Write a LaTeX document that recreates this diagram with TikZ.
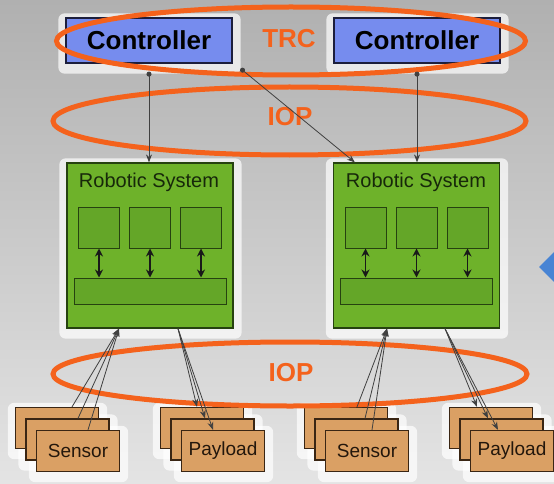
\documentclass[tikz,border=0pt]{standalone}
\usepackage{fontspec}
\setmainfont{Liberation Sans}
\usetikzlibrary{arrows.meta, positioning, calc}
\definecolor{bgtop}{RGB}{176,176,176}
\definecolor{bgbot}{RGB}{228,228,228}
\definecolor{ringorange}{RGB}{244,98,28}
\definecolor{ctrlblue}{RGB}{118,140,238}
\definecolor{ctrlline}{RGB}{28,30,60}
\definecolor{sysgreen}{RGB}{110,178,42}
\definecolor{sysinner}{RGB}{100,166,40}
\definecolor{sysline}{RGB}{38,66,16}
\definecolor{unittan}{RGB}{218,160,100}
\definecolor{unitline}{RGB}{58,38,20}
\definecolor{diamondblue}{RGB}{72,132,212}
\pgfdeclarelayer{back}
\pgfdeclarelayer{glow}
\pgfsetlayers{back,glow,main}

\tikzset{
  ctrl/.style={draw=ctrlline, line width=1.2pt, fill=ctrlblue, minimum width=166pt, minimum height=45pt,
    inner sep=0pt, font=\fontsize{26}{30}\selectfont\bfseries},
  sys/.style={draw=sysline, line width=1.2pt, fill=sysgreen, minimum width=166pt, minimum height=165pt, inner sep=0pt},
  systitle/.style={font=\fontsize{20}{24}\selectfont, text=sysline!60!black, anchor=base, inner sep=0pt},
  module/.style={draw=sysline, line width=1pt, fill=sysinner, minimum size=41pt, inner sep=0pt},
  busbar/.style={draw=sysline, line width=1pt, fill=sysinner, minimum width=152pt, minimum height=26pt, inner sep=0pt},
  unit/.style={draw=unitline, line width=1.2pt, fill=unittan, minimum width=83pt, minimum height=41pt,
    inner sep=0pt, font=\fontsize{19}{22}\selectfont, text=unitline!60!black},
  ring/.style={draw=ringorange, line width=5pt},
  ringlabel/.style={text=ringorange, font=\fontsize{26}{30}\selectfont\bfseries, inner sep=0pt},
  halo/.style={fill=white, rounded corners=6pt, opacity=0.7},
  link/.style={draw=black!75, line width=0.8pt},
  tip/.style={-{Stealth[length=8pt,width=6pt]}},
  bus/.style={{Stealth[length=8pt,width=8pt]}-{Stealth[length=8pt,width=8pt]}, line width=1.6pt, black!90},
}

\begin{document}
\begin{tikzpicture}[x=1pt, y=-1pt]
  \useasboundingbox (0,0) rectangle (554,484);
  \begin{pgfonlayer}{back}
    \shade[top color=bgtop, bottom color=bgbot] (0,0) rectangle (554,484);
    \fill[diamondblue] (539,267) -- (570,236) -- (601,267) -- (570,298) -- cycle;
  \end{pgfonlayer}

  % controllers
  \node[ctrl] (ctrlL) at (149,40.5) {Controller};
  \node[ctrl] (ctrlR) at (417,40.5) {Controller};

  % robotic systems
  \node[sys] (sysL) at (150,245.5) {};
  \node[sys] (sysR) at (416.5,245.5) {};
  \node[systitle] (titleL) at (149,187) {Robotic System};
  \node[systitle] (titleR) at (416,187) {Robotic System};
  \foreach \s/\cx in {L/150, R/416.5} {
    \foreach \i/\dx in {1/-51, 2/0, 3/51}
      \node[module] (mod\s\i) at (\cx+\dx, 227.5) {};
    \node[busbar] (bar\s) at (\cx, 291) {};
    \foreach \i in {1,2,3}
      \draw[bus] (mod\s\i) -- (mod\s\i |- bar\s.north);
  }

  % sensor and payload stacks, label on the front card only
  \foreach \nm/\cx/\txt in {sensL/57/Sensor, loadL/202/Payload, sensR/346/Sensor, loadR/491/Payload} {
    \foreach \i in {1,2,3}
      \node[unit] (\nm\i) at ({\cx+(\i-1)*10.5}, {428+(\i-1)*11.5}) {\ifnum\i=3 \txt\fi};
  }

  % white glow behind the boxes
  \begin{pgfonlayer}{glow}
    \foreach \n in {ctrlL, ctrlR, sysL, sysR, sensL1, sensL2, sensL3, loadL1, loadL2, loadL3,
                    sensR1, sensR2, sensR3, loadR1, loadR2, loadR3}
      \fill[halo] ([shift={(-7pt,4pt)}]\n.north west) rectangle ([shift={(8pt,-10pt)}]\n.south east);
  \end{pgfonlayer}

  % protocol rings
  \draw[ring] (291,41) ellipse [x radius=234.5pt, y radius=34pt];
  \draw[ring] (289.5,121) ellipse [x radius=236.5pt, y radius=34pt];
  \draw[ring] (290,374) ellipse [x radius=237pt, y radius=32pt];
  \node[ringlabel] (trc) at (289,39) {TRC};
  \node[ringlabel] (iopTop) at (290,117) {IOP};
  \node[ringlabel] (iopBot) at (291,373) {IOP};

  % controller links
  \draw[link, {Circle[length=5pt]}-{Stealth[length=8pt,width=6pt]}] ([yshift=-8pt]ctrlL.south) -- (ctrlL.south |- sysL.north);
  \draw[link, {Circle[length=5pt]}-{Stealth[length=8pt,width=6pt]}] ([yshift=-8pt]ctrlR.south) -- (ctrlR.south |- sysR.north);
  \draw[link, {Circle[length=5pt]}-{Stealth[length=8pt,width=6pt]}] ([shift={(8pt,-5pt)}]ctrlL.south east) -- ([xshift=22pt]sysR.north west);

  % sensor links
  \foreach \i/\sx in {1/15, 2/10.5, 3/10}
    \draw[link, tip] ([xshift=\sx pt]sensL\i.north) -- ([xshift=-31pt]sysL.south);
  \foreach \i/\sx in {1/11, 2/8.5, 3/5}
    \draw[link, tip] ([xshift=\sx pt]sensR\i.north) -- ([xshift=-29.5pt]sysR.south);

  % payload links
  \foreach \i/\sx in {1/-5, 2/-7.5, 3/-10}
    \draw[link, tip] ([xshift=28pt]sysL.south) -- ([xshift=\sx pt]loadL\i.north);
  \foreach \i/\sx in {1/-14, 2/-13.5, 3/-14}
    \draw[link, tip] ([xshift=28.5pt]sysR.south) -- ([xshift=\sx pt]loadR\i.north);
\end{tikzpicture}
\end{document}
